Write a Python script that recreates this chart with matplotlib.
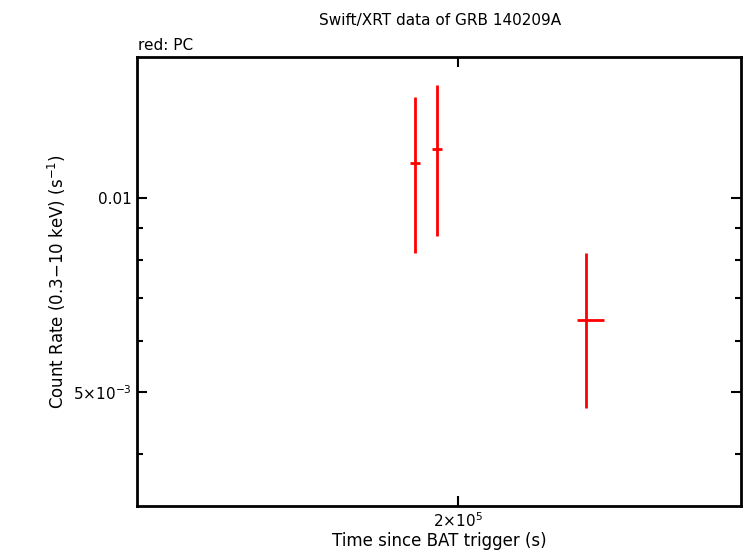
import matplotlib
matplotlib.use("Agg")
import matplotlib.pyplot as plt
from matplotlib.ticker import FixedLocator, NullFormatter, LogLocator

# Swift/XRT PC mode points (time, rate, errors)
t = [1.892e5, 1.947e5, 2.365e5]
t_lo = [1.879e5, 1.934e5, 2.340e5]
t_hi = [1.904e5, 1.960e5, 2.422e5]
rate = [0.01133, 0.01191, 0.006466]
rate_lo = [0.00822, 0.00873, 0.004723]
rate_hi = [0.01435, 0.01497, 0.00822]

xerr = [[a - b for a, b in zip(t, t_lo)], [b - a for a, b in zip(t, t_hi)]]
yerr = [[a - b for a, b in zip(rate, rate_lo)], [b - a for a, b in zip(rate, rate_hi)]]

fig = plt.figure(figsize=(7.46, 5.58), dpi=100)
ax = fig.add_axes([0.1836, 0.0932, 0.8097, 0.8046])
ax.errorbar(t, rate, xerr=xerr, yerr=yerr, fmt='none', ecolor='red', elinewidth=2, capsize=0)
ax.set_xscale('log')
ax.set_yscale('log')
ax.set_xlim(1.313e5, 2.9e5)
ax.set_ylim(0.003327, 0.01655)

ax.xaxis.set_major_locator(FixedLocator([2e5]))
ax.xaxis.set_minor_locator(FixedLocator([]))
ax.set_xticklabels([r'2$\times$10$^5$'])
ax.yaxis.set_major_locator(FixedLocator([0.005, 0.01]))
ax.set_yticklabels([r'5$\times$10$^{-3}$', '0.01'])
ax.yaxis.set_minor_locator(LogLocator(subs=(2, 3, 4, 6, 7, 8, 9)))
ax.yaxis.set_minor_formatter(NullFormatter())
ax.tick_params(which='both', direction='in', top=True, right=True, labelsize=11, width=1.5)
ax.tick_params(which='major', length=7)
ax.tick_params(which='minor', length=4)
for s in ax.spines.values():
    s.set_linewidth(2)

ax.set_xlabel('Time since BAT trigger (s)', fontsize=12, labelpad=2)
ax.set_ylabel(r'Count Rate (0.3$-$10 keV) (s$^{-1}$)', fontsize=12)
fig.text(0.59, 0.955, 'Swift/XRT data of GRB 140209A', ha='center', fontsize=11)
fig.text(0.185, 0.91, 'red: PC', fontsize=11)

fig.savefig('out.png', dpi=100)
